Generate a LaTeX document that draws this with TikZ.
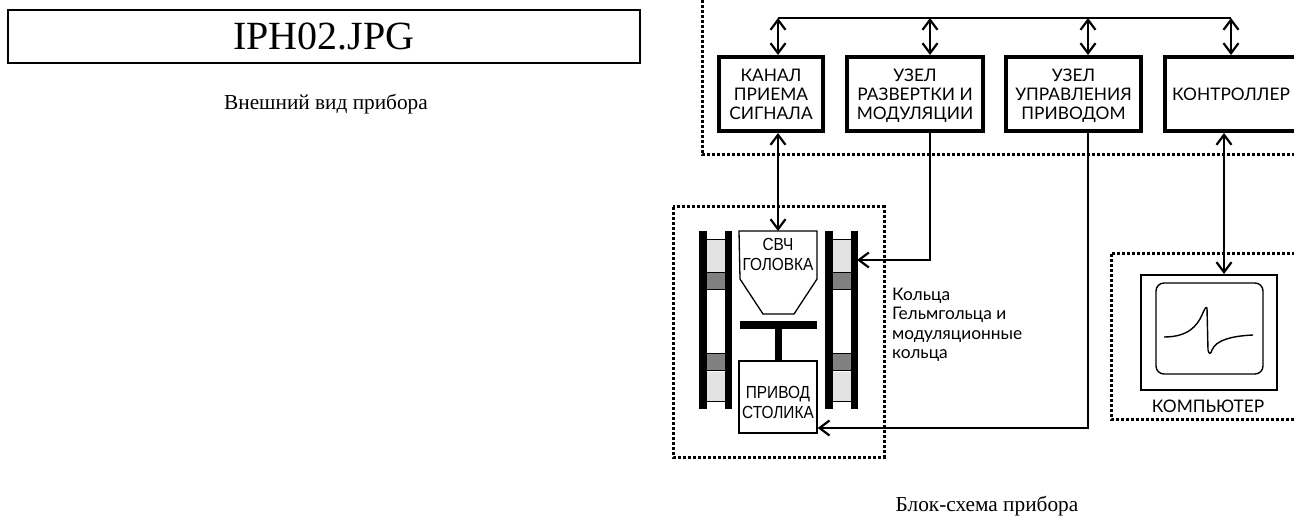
\documentclass[tikz,border=0pt]{standalone}
\usepackage{fontspec}
\setmainfont{Liberation Serif}
\newfontfamily\blockfont{Lato}
\newfontfamily\headfont[FakeStretch=0.88]{Liberation Sans}
\usetikzlibrary{arrows.meta, positioning}

\definecolor{ringlight}{gray}{0.89}
\definecolor{ringdark}{gray}{0.5}

\begin{document}
\begin{tikzpicture}[
  x=1pt, y=-1pt,
  title/.style   ={rectangle, draw, line width=2pt, minimum width=632pt, minimum height=53pt,
                   font=\fontsize{40}{44}\selectfont},
  caption/.style ={inner sep=0pt, anchor=base, font=\fontsize{21.3}{24}\selectfont},
  block/.style   ={rectangle, draw, line width=4pt, minimum width=136pt, minimum height=74pt,
                   inner sep=0pt, align=center, text depth=-3pt, font=\blockfont\fontsize{17.3}{19}\selectfont},
  part/.style    ={rectangle, draw=none, inner sep=0pt, align=center,
                   font=\headfont\fontsize{17.5}{20.5}\selectfont},
  plain/.style   ={inner sep=0pt, align=left, font=\blockfont\fontsize{17.3}{19.5}\selectfont},
  frame/.style   ={line width=3pt, dash pattern=on 3pt off 2pt},
  arrow/.style   ={-{Straight Barb[length=10pt,width=15pt,line width=2.2pt]}, line width=1.2pt},
  dblarrow/.style={{Straight Barb[length=10pt,width=15pt,line width=2.2pt]}-{Straight Barb[length=10pt,width=15pt,line width=2.2pt]}, line width=1.2pt},
]
  \useasboundingbox (0,0) rectangle (1294,516);

  \node[title]   (photo)  at (324,36.5) {IPH02.JPG};
  \node[caption] (photocap) at (326,110) {Внешний вид прибора};
  \node[caption] (schemecap) at (987,511) {Блок-схема прибора};

  % dotted frames run off the page
  \draw[frame] (702,-5) -- (702,155) -- (1300,155);
  \draw[frame] (673,207) rectangle (884,457);
  \draw[frame] (1300,253) -- (1111,253) -- (1111,419) -- (1300,419);

  \node[block, minimum width=104pt]          (kanal)  at (771,94) {КАНАЛ\\ПРИЕМА\\СИГНАЛА};
  \node[block, right=20pt of kanal]          (uzelr)  {УЗЕЛ\\РАЗВЕРТКИ И\\МОДУЛЯЦИИ};
  \node[block, minimum width=135pt, right=19pt of uzelr] (uzelu)  {УЗЕЛ\\УПРАВЛЕНИЯ\\ПРИВОДОМ};
  \node[block, minimum width=132pt, right=20pt of uzelu] (contr)  {КОНТРОЛЛЕР};

  \coordinate (busa) at (778,18);
  \coordinate (busb) at (930,18);
  \coordinate (busc) at (1088,18);
  \coordinate (busd) at (1231,18);
  \draw[line width=1.2pt] (busa) -- (busd);
  \draw[dblarrow] (busa) -- (busa |- kanal.north);
  \draw[dblarrow] (busb) -- (busb |- uzelr.north);
  \draw[dblarrow] (busc) -- (busc |- uzelu.north);
  \draw[dblarrow] (busd) -- (busd |- contr.north);

  % rings, both columns alike
  \foreach \rx in {699,825} {
    \fill[ringlight] (\rx+8,239) rectangle (\rx+26,272);
    \fill[ringdark]  (\rx+8,273) rectangle (\rx+26,289);
    \fill[ringdark]  (\rx+8,353) rectangle (\rx+26,370);
    \fill[ringlight] (\rx+8,372) rectangle (\rx+26,401);
    \foreach \ry in {239,272.5,289,353,370.5,401}
      \draw[line width=0.8pt] (\rx+8,\ry) -- (\rx+26,\ry);
    \fill (\rx,231) rectangle (\rx+8,409);
    \fill (\rx+26,231) rectangle (\rx+33,409);
  }
  \coordinate (ringin) at (857,260);

  \draw[line width=1.3pt] (739,231) -- (817,231) -- (817,279) -- (794,314) -- (763,314) -- (740,279) -- cycle;
  \node[part] (golovka) at (778,254.5) {СВЧ\\ГОЛОВКА};
  \coordinate (headtop) at (778,231);
  \fill (740,321) rectangle (817,329);
  \fill (775,329) rectangle (782,361);
  \node[part, draw, line width=1.3pt, minimum width=78pt, minimum height=72pt] (privod) at (778,397) {};
  \node[part] (stolik) at (778,402.5) {ПРИВОД\\СТОЛИКА};

  \draw[dblarrow] (busa |- kanal.south) -- (headtop);
  \draw[arrow] (busb |- uzelr.south) |- (ringin);
  \coordinate (privodin) at (817.7,428);
  \draw[arrow] (busc |- uzelu.south) |- (privodin);

  \node[plain, anchor=north west] (rings) at (892,287.5) {Кольца\\Гельмгольца и\\модуляционные\\кольца};

  \node[rectangle, draw, line width=1.5pt, minimum width=136pt, minimum height=115pt] (monitor) at (1209,332.5) {};
  \draw[line width=1.4pt, rounded corners=8pt] (1156,283) rectangle (1263,374);
  \draw[line width=1.4pt, line join=round] (1164,337) .. controls (1188,337) and (1197,326) .. (1202,315)
    .. controls (1204,310) and (1206,306) .. (1207,308) -- (1208,350)
    .. controls (1209,355) and (1211,354) .. (1212,350)
    .. controls (1216,340) and (1232,336) .. (1253,335);
  \node[inner sep=0pt, font=\blockfont\fontsize{17.3}{19}\selectfont] (computer) at (1208,406) {КОМПЬЮТЕР};

  \coordinate (ctrlout) at (1224,133);
  \coordinate (monin) at (1224,274);
  \draw[dblarrow] (ctrlout) -- (monin);
\end{tikzpicture}
\end{document}
